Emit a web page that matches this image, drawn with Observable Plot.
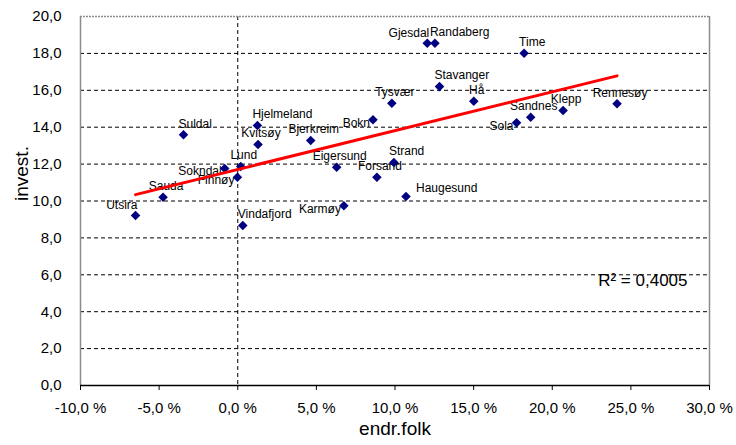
<!DOCTYPE html>
<html>
<head>
<meta charset="utf-8">
<script src="https://cdn.jsdelivr.net/npm/d3@7"></script>
<script src="https://cdn.jsdelivr.net/npm/@observablehq/plot@0.6"></script>
<style>
  html, body { margin: 0; padding: 0; background: #fff; }
  #chart { width: 736px; height: 445px; }
</style>
</head>
<body>
<div id="chart"></div>
<script>
// ---- data ----
const kommuner = ["Utsira","Sauda","Suldal","Sokndal","Lund","Finnøy","Vindafjord","Hjelmeland","Kvitsøy","Bjerkreim","Bokn","Eigersund","Strand","Forsand","Haugesund","Karmøy","Tysvær","Gjesdal","Randaberg","Time","Stavanger","Hå","Sola","Sandnes","Klepp","Rennesøy"];
const endrFolk = [-6.5,-4.75,-3.45,-0.83,0.19,-0.02,0.32,1.25,1.29,4.64,8.6,6.29,9.93,8.85,10.7,6.75,9.8,12.05,12.54,18.21,12.83,15.01,17.73,18.63,20.69,24.12];
const invest   = [9.21,10.2,13.59,11.76,11.87,11.29,8.67,14.09,13.06,13.28,14.4,11.83,12.09,11.29,10.24,9.74,15.3,18.55,18.55,18.01,16.2,15.41,14.24,14.54,14.9,15.27];
const xTicks = [-10,-5,0,5,10,15,20,25,30];
const yTicks = [0,2,4,6,8,10,12,14,16,18,20];
const xTitle = "endr.folk";
const yTitle = "invest.";
const r2Label = "R² = 0,4005";

// label placement presets (style)
const labelSide = {
  Utsira:"NW", Sauda:"N", Suldal:"NE", Sokndal:"W", Lund:"N", Finnøy:"W", Vindafjord:"NE",
  Hjelmeland:"NE", Kvitsøy:"N", Bjerkreim:"N", Bokn:"W", Eigersund:"N", Strand:"NE",
  Forsand:"N", Haugesund:"E", Karmøy:"W", Tysvær:"N", Gjesdal:"NW", Randaberg:"NE",
  Time:"NE", Stavanger:"NE", Hå:"N", Sola:"W", Sandnes:"N", Klepp:"N", Rennesøy:"N"
};
const presets = {
  N:  {textAnchor:"middle", dx:3,  dy:-11},
  NE: {textAnchor:"start",  dx:-5, dy:-11},
  NW: {textAnchor:"end",    dx:2,  dy:-10},
  W:  {textAnchor:"end",    dx:-3, dy:3},
  E:  {textAnchor:"start",  dx:10, dy:-8}
};

const data = kommuner.map((k, i) => ({name: k, x: endrFolk[i], y: invest[i]}));

const fmtX = v => (v < 0 ? "-" : "") + Math.abs(v).toFixed(1).replace(".", ",") + " %";
const fmtY = v => v.toFixed(1).replace(".", ",");

const labelMarks = Object.entries(presets).map(([side, p]) =>
  Plot.text(data.filter(d => labelSide[d.name] === side), {
    x: "x", y: "y", text: "name", fontSize: 12, fill: "black", ...p
  })
);

const chart = Plot.plot({
  width: 736,
  height: 445,
  marginLeft: 80,
  marginRight: 27,
  marginTop: 16,
  marginBottom: 60,
  x: {domain: [-10, 30]},
  y: {domain: [0, 20]},
  style: {fontFamily: "Arial, 'Liberation Sans', sans-serif", background: "white", color: "black", overflow: "visible"},
  marks: [
    Plot.ruleY(yTicks.filter(v => v > 0 && v < 20), {stroke: "black", strokeDasharray: "4,3", strokeWidth: 1}),
    Plot.ruleX([0], {stroke: "black", strokeDasharray: "4,3", strokeWidth: 1}),
    Plot.ruleY([20], {stroke: "#8c8c8c", strokeDasharray: "2,1", strokeWidth: 1.5}),
    Plot.ruleX([30], {stroke: "#8c8c8c", strokeWidth: 1.5}),
    Plot.ruleX([-10], {stroke: "#8c8c8c", strokeWidth: 1.5}),
    Plot.axisX({ticks: xTicks, tickFormat: fmtX, tickSize: 5, tickPadding: 12, fontSize: 15, label: null, stroke: "black"}),
    Plot.axisY({ticks: yTicks, tickFormat: fmtY, tickSize: 0, tickPadding: 19, fontSize: 15, label: null}),
    Plot.ruleY([0], {stroke: "black", strokeWidth: 1.5}),
    ...labelMarks,
    Plot.dot(data, {x: "x", y: "y", symbol: "diamond2", r: 4.3, fill: "#000080", stroke: "none"}),
    Plot.linearRegressionY(data, {x: "x", y: "y", stroke: "#ff0000", strokeWidth: 3, ci: 0}),
    Plot.text([r2Label], {text: d => d, frameAnchor: "right", textAnchor: "end", dx: -22, dy: 80, fontSize: 17}),
    Plot.text([xTitle], {text: d => d, frameAnchor: "bottom", dy: 49, fontSize: 19}),
    Plot.text([yTitle], {text: d => d, frameAnchor: "left", dx: -59, rotate: -90, fontSize: 19})
  ]
});
document.getElementById("chart").appendChild(chart);
</script>
</body>
</html>
